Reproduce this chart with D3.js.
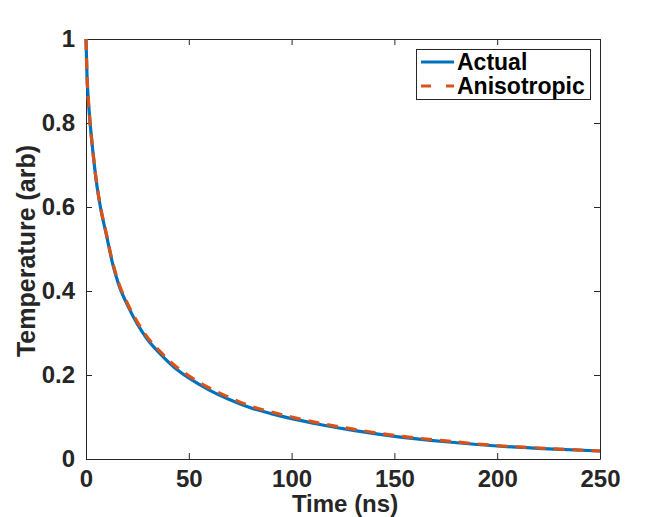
<!DOCTYPE html>
<html>
<head>
<meta charset="utf-8">
<script src="https://cdn.jsdelivr.net/npm/d3@7"></script>
<style>
  html, body { margin: 0; padding: 0; background: #fff; }
  svg { display: block; }
  text { font-family: "Liberation Sans", Arial, Helvetica, sans-serif; font-weight: bold; }
</style>
</head>
<body>
<svg id="chart" width="664" height="517"></svg>
<script>
// ---- data ----
const timeNs = [0, 0.5, 1, 2, 3.5, 5, 7, 10, 13, 16, 20, 25, 30, 36, 43, 50, 60, 70, 80, 90, 100, 115, 130, 150, 175, 200, 225, 250];
const actual = [1.0, 0.91, 0.865, 0.80, 0.725, 0.662, 0.6, 0.532, 0.464, 0.414, 0.368, 0.321, 0.284, 0.251, 0.218, 0.193, 0.164, 0.141, 0.122, 0.108, 0.096, 0.081, 0.068, 0.054, 0.041, 0.031, 0.024, 0.019];
const anisotropic = [1.0, 0.91, 0.865, 0.80, 0.726, 0.663, 0.602, 0.534, 0.467, 0.418, 0.372, 0.326, 0.289, 0.256, 0.223, 0.198, 0.169, 0.146, 0.126, 0.112, 0.100, 0.084, 0.071, 0.056, 0.043, 0.032, 0.025, 0.019];
const xTicks = [0, 50, 100, 150, 200, 250];
const yTicks = [0, 0.2, 0.4, 0.6, 0.8, 1];
const seriesNames = ["Actual", "Anisotropic"];
const xLabel = "Time (ns)";
const yLabel = "Temperature (arb)";

// ---- layout ----
const W = 664, H = 517;
const L = 86, T = 39, R = 600, B = 459;
const axisColor = "#262626";
const blue = "#0072BD", orange = "#D95319";

const svg = d3.select("#chart");
svg.append("rect").attr("width", W).attr("height", H).attr("fill", "#fff");

const x = d3.scaleLinear().domain([0, 250]).range([L, R]);
const y = d3.scaleLinear().domain([0, 1]).range([B, T]);

const tickLen = 6;
const styleText = g => g.selectAll(".tick text").attr("fill", axisColor).attr("font-size", 24)
  .attr("font-family", '"Liberation Sans", Arial, sans-serif').attr("font-weight", "bold");
const styleLines = g => {
  g.select(".domain").attr("stroke", axisColor);
  g.selectAll(".tick line").attr("stroke", axisColor);
};

svg.append("g").attr("transform", `translate(0,${B})`)
  .call(d3.axisBottom(x).tickValues(xTicks).tickSizeInner(-tickLen).tickSizeOuter(0).tickPadding(11).tickFormat(d3.format("d")))
  .call(styleLines).call(styleText);
svg.append("g").attr("transform", `translate(0,${T})`)
  .call(d3.axisTop(x).tickValues(xTicks).tickSizeInner(-tickLen).tickSizeOuter(0).tickFormat(""))
  .call(styleLines);
svg.append("g").attr("transform", `translate(${L},0)`)
  .call(d3.axisLeft(y).tickValues(yTicks).tickSizeInner(-tickLen).tickSizeOuter(0).tickPadding(11)
    .tickFormat(d => d === 0 || d === 1 ? d3.format("d")(d) : d3.format(".1f")(d)))
  .call(styleLines).call(styleText);
svg.append("g").attr("transform", `translate(${R},0)`)
  .call(d3.axisRight(y).tickValues(yTicks).tickSizeInner(-tickLen).tickSizeOuter(0).tickFormat(""))
  .call(styleLines);

// lines
const line = d3.line().x(d => x(d[0])).y(d => y(d[1])).curve(d3.curveMonotoneX);
svg.append("path").datum(timeNs.map((t, i) => [t, actual[i]]))
  .attr("d", line).attr("fill", "none").attr("stroke", blue).attr("stroke-width", 3.2);
svg.append("path").datum(timeNs.map((t, i) => [t, anisotropic[i]]))
  .attr("d", line).attr("fill", "none").attr("stroke", orange).attr("stroke-width", 3.2)
  .attr("stroke-dasharray", "11,8");

// axis labels
svg.append("text").attr("x", (L + R) / 2 + 2).attr("y", 512).attr("text-anchor", "middle")
  .attr("font-size", 24).attr("fill", axisColor).text(xLabel);
svg.append("text").attr("transform", `translate(35,${(T + B) / 2 + 2}) rotate(-90)`).attr("text-anchor", "middle")
  .attr("font-size", 25).attr("fill", axisColor).text(yLabel);

// legend
const lg = svg.append("g");
lg.append("rect").attr("x", 416.5).attr("y", 49.5).attr("width", 174).attr("height", 50)
  .attr("fill", "#fff").attr("stroke", axisColor).attr("stroke-width", 1);
const legendColors = [blue, orange];
const legendDash = [null, "10,15"];
seriesNames.forEach((name, i) => {
  const cy = 62 + i * 24;
  lg.append("line").attr("x1", 421).attr("x2", 454).attr("y1", cy).attr("y2", cy)
    .attr("stroke", legendColors[i]).attr("stroke-width", 3.2)
    .attr("stroke-dasharray", legendDash[i]);
  lg.append("text").attr("x", 457).attr("y", cy + 7.5).attr("font-size", 23).attr("fill", "#000").text(name);
});
</script>
</body>
</html>
